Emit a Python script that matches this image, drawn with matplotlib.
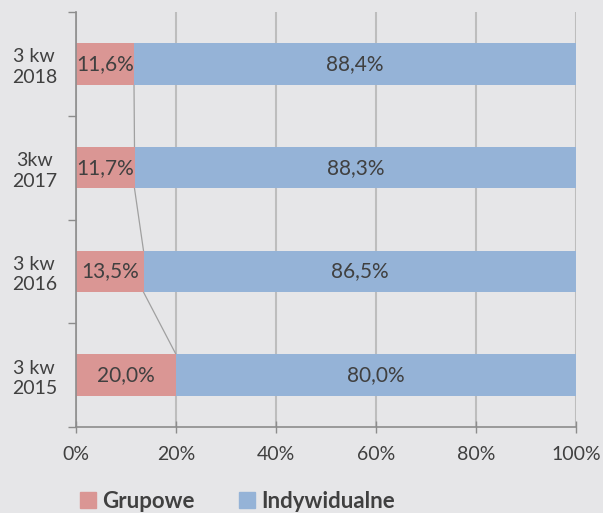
import matplotlib
matplotlib.use("Agg")
import matplotlib.pyplot as plt
from matplotlib.patches import Patch

categories = ["3 kw\n2015", "3 kw\n2016", "3kw\n2017", "3 kw\n2018"]
grupowe = [20.0, 13.5, 11.7, 11.6]
indywidualne = [80.0, 86.5, 88.3, 88.4]
xticks = [0, 20, 40, 60, 80, 100]
xticklabels = ["0%", "20%", "40%", "60%", "80%", "100%"]

bg = "#E6E6E8"
c_gr = "#DA9694"
c_ind = "#95B3D7"
txt = "#404040"
font = ["Lato", "DejaVu Sans"]
plt.rcParams["font.family"] = font

fig = plt.figure(figsize=(6.03, 5.13), dpi=100, facecolor=bg)
ax = fig.add_axes([76/603, 1-427/513, 500/603, 415/513], facecolor=bg)

y = list(range(len(categories)))
h = 0.4
ax.set_axisbelow(True)
ax.barh(y, grupowe, height=h, color=c_gr, zorder=2)
ax.barh(y, indywidualne, left=grupowe, height=h, color=c_ind, zorder=2)

# series lines
for i in range(len(y) - 1):
    ax.plot([grupowe[i], grupowe[i+1]], [y[i] + h/2, y[i+1] - h/2],
            color="#A0A0A0", lw=0.9, zorder=1)

for i in y:
    ax.text(grupowe[i]/2, i, f"{grupowe[i]:.1f}%".replace(".", ","),
            ha="center", va="center", fontsize=15, color=txt, zorder=3)
    ax.text(grupowe[i] + indywidualne[i]/2, i, f"{indywidualne[i]:.1f}%".replace(".", ","),
            ha="center", va="center", fontsize=15, color=txt, zorder=3)

ax.set_xlim(0, 100)
ax.set_ylim(-0.5, 3.5)
ax.set_xticks(xticks)
ax.set_xticklabels(xticklabels, fontsize=14, color=txt)
ax.xaxis.grid(True, color="#BDBDBD", lw=1.5, zorder=0)
ax.tick_params(axis="x", direction="inout", length=9, color="#8C8C8C", width=1, pad=9)

ax.set_yticks([-0.5, 0.5, 1.5, 2.5, 3.5])
ax.set_yticklabels([])
ax.set_yticks(y, minor=True)
ax.set_yticklabels(categories, minor=True, fontsize=14, color=txt, ha="center",
                   linespacing=1.25)
ax.tick_params(axis="y", which="minor", length=0, pad=30)
ax.tick_params(axis="y", which="major", direction="out", length=6, color="#8C8C8C", width=1)

for s in ["top", "right"]:
    ax.spines[s].set_visible(False)
for s in ["left", "bottom"]:
    ax.spines[s].set_color("#8C8C8C")
    ax.spines[s].set_linewidth(1.2)

handles = [Patch(color=c_gr, label="Grupowe"), Patch(color=c_ind, label="Indywidualne")]
leg = fig.legend(handles=handles, loc="center left", bbox_to_anchor=(80/603, 1-501/513),
                 ncol=2, frameon=False, prop={"family": font, "weight": "bold", "size": 16},
                 handlelength=0.7, handleheight=0.7, handletextpad=0.3, columnspacing=2.0,
                 borderpad=0, borderaxespad=0)
for t in leg.get_texts():
    t.set_color(txt)

fig.savefig("out.png", dpi=100, facecolor=bg)
